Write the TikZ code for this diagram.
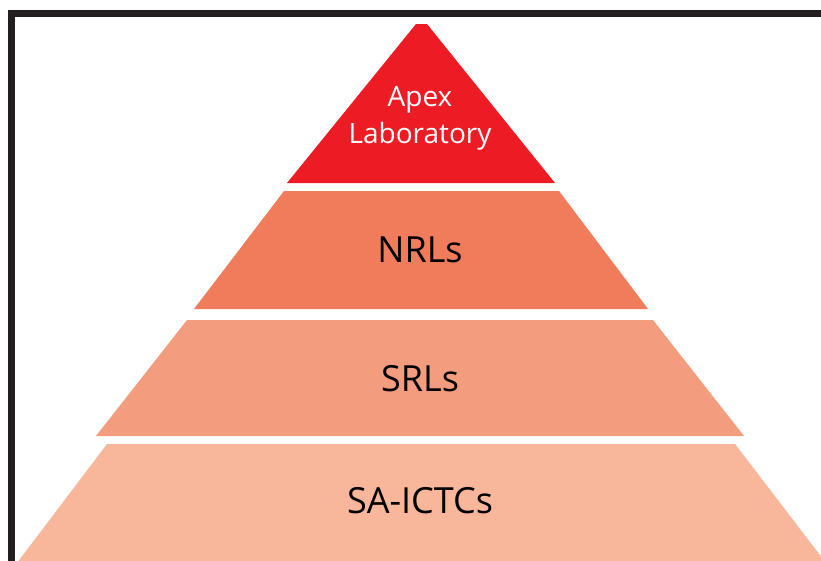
\documentclass[tikz,border=0pt]{standalone}
\usepackage{fontspec}
\setmainfont{Open Sans}
\definecolor{apexred}{HTML}{ED1C24}
\definecolor{nrlcol}{HTML}{F07C5C}
\definecolor{srlcol}{HTML}{F39C7E}
\definecolor{sacol}{HTML}{F8B69B}
\definecolor{frame}{HTML}{231F20}
\begin{document}
\begin{tikzpicture}[x=1pt,y=-1pt,
  biglabel/.style={font=\fontsize{36}{40}\selectfont, text=black, inner sep=0pt, anchor=base},
  apexlabel/.style={font=\fontsize{28}{37}\selectfont, text=white, inner sep=0pt, align=center}]
\useasboundingbox (0,0) rectangle (821,560);
\clip (0,0) rectangle (821,560);
\fill[white] (0,0) rectangle (821,560);
% pyramid layers
\fill[apexred] (287,183) -- (416,24) -- (427,24) -- (555,183) -- cycle;
\fill[nrlcol] (284,191) -- (559,191) -- (648,309) -- (194,309) -- cycle;
\fill[srlcol] (187,320) -- (653,320) -- (744,436) -- (96,436) -- cycle;
\fill[sacol] (107,444) -- (735,444) -- (826,563) -- (17,563) -- cycle;
% labels
\node[apexlabel, anchor=base] (apex) at (420,143) {Apex\\Laboratory};
\node[biglabel] (nrl) at (420,262) {NRLs};
\node[biglabel] (srl) at (420,391) {SRLs};
\node[biglabel] (sa) at (420,513) {SA-ICTCs};
% frame
\draw[frame, line width=7pt, line join=miter] (11.5,565) -- (11.5,13.5) -- (830,13.5);
\end{tikzpicture}
\end{document}
